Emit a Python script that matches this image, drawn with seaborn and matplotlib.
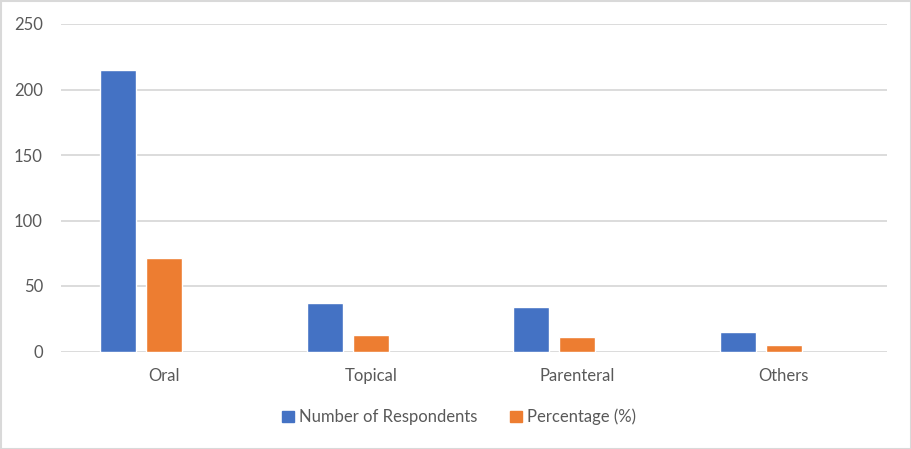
import seaborn as sns
import matplotlib.pyplot as plt
import matplotlib.patches as mpatches
import pandas as pd

sns.set_style("white")
plt.rcParams['font.family'] = ['Lato', 'DejaVu Sans']

# Data
routes = ['Oral', 'Topical', 'Parenteral', 'Others']
respondents = [215, 37, 34, 15]
percentage = [71.7, 12.3, 11.3, 5.0]
series = ['Number of Respondents', 'Percentage (%)']
colors = ['#4472C4', '#ED7D31']

df = pd.DataFrame({
    'Route': routes * 2,
    'Series': [series[0]] * 4 + [series[1]] * 4,
    'Value': respondents + percentage,
})

fig = plt.figure(figsize=(9.11, 4.49), dpi=100)
ax = fig.add_axes([61 / 911, 97.5 / 449, 826 / 911, 327.5 / 449])

# Excel keeps an empty third series slot, so reserve it in hue_order
hue_order = series + ['_blank']
sns.barplot(data=df, x='Route', y='Value', hue='Series', hue_order=hue_order,
            palette=colors + ['white'], width=0.668, gap=0.217,
            saturation=1, ax=ax, legend=False)

ax.set_ylim(0, 250)
ax.set_yticks([0, 50, 100, 150, 200, 250])
ax.set_xlim(-0.5, 3.5)
ax.yaxis.grid(True, color='#d9d9d9', linewidth=1.3)
ax.set_axisbelow(True)
for s in ax.spines.values():
    s.set_visible(False)
ax.set_xlabel('')
ax.set_ylabel('')
ax.tick_params(axis='both', length=0, labelsize=12, colors='#595959')
ax.tick_params(axis='y', pad=13)
ax.tick_params(axis='x', pad=12)

handles = [mpatches.Patch(color=c, label=l) for c, l in zip(colors, series)]
fig.legend(handles=handles, loc='center', bbox_to_anchor=(459 / 911, 1 - 417 / 449),
           ncol=2, frameon=False, fontsize=12, labelcolor='#595959',
           handlelength=0.7, handleheight=0.7, handletextpad=0.3, columnspacing=2.0)

# light border around the chart area
fig.patches.append(mpatches.Rectangle((0.5 / 911, 0.5 / 449), 1 - 1 / 911, 1 - 1 / 449,
                                      transform=fig.transFigure, fill=False,
                                      edgecolor='#d9d9d9', linewidth=1.5))

plt.savefig('out.png', dpi=100)
plt.close()
